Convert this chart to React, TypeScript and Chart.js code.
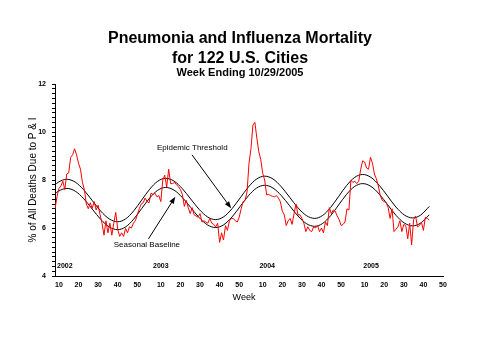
import React, { useEffect, useRef } from "react";
import { Chart, registerables } from "chart.js";

Chart.register(...registerables);

// Continuous week index: 2002 week w -> w, 2003 -> 52 + w, 2004 -> 104 + w, 2005 -> 156 + w
const FIRST_WEEK_INDEX = 8;

// Observed % of all deaths due to P&I, weekly from 2002 wk 8 to 2005 wk 43
const observed = [
  6.80, 7.30, 7.65, 7.75, 7.95, 7.60, 8.25, 8.30, 8.95, 9.05, 9.30, 9.05, 8.70, 8.45, 7.90, 7.60,
  7.00, 6.80, 7.05, 6.82, 7.10, 6.75, 6.95, 6.55, 6.20, 5.70, 6.30, 5.80, 6.20, 5.70, 6.20, 6.65,
  5.95, 5.65, 5.80, 5.65, 5.98, 5.80, 6.05, 6.00, 6.20, 6.30, 6.55, 6.80, 7.00, 7.05, 7.25, 7.10,
  7.05, 7.45, 7.40, 7.45, 7.30, 7.35, 7.10, 8.00, 8.20, 7.70, 8.45, 7.85, 7.85, 7.90, 7.80, 7.72,
  7.60, 7.40, 6.90, 7.15, 6.85, 6.60, 6.85, 6.55, 6.50, 6.45, 6.60, 6.25, 6.30, 6.25, 6.20, 6.40,
  6.20, 6.15, 6.05, 6.20, 5.40, 5.80, 5.50, 6.10, 5.90, 6.30, 6.40, 6.40, 6.30, 6.25, 6.45, 6.80,
  7.10, 7.15, 7.50, 8.70, 9.30, 10.29, 10.40, 9.75, 9.18, 8.85, 8.28, 8.00, 7.38, 7.40, 7.35, 7.32,
  7.30, 7.35, 7.25, 7.10, 6.70, 6.55, 6.10, 6.30, 6.40, 6.15, 6.60, 7.00, 6.55, 6.55, 6.40, 6.20,
  5.85, 6.05, 5.90, 5.85, 6.05, 6.00, 6.10, 5.85, 6.00, 5.80, 6.25, 6.10, 6.85, 6.60, 6.75, 6.70,
  6.50, 6.35, 6.10, 6.15, 6.25, 6.80, 6.75, 8.00, 7.90, 7.95, 7.85, 7.95, 8.45, 8.80, 8.75, 8.50,
  8.45, 8.95, 8.70, 8.25, 8.05, 7.75, 7.35, 7.15, 7.10, 7.05, 6.85, 6.40, 6.80, 5.85, 5.95, 6.05,
  6.30, 5.85, 6.15, 6.10, 5.55, 6.20, 5.30, 6.35, 6.50, 6.05, 6.10, 6.25, 5.90, 6.45, 6.40, 6.33,
];

// Seasonal baseline / epidemic threshold, read at these week indices
const curveWeeks = [
  8, 9.67, 14, 18.33, 22.67, 27, 31.33, 35.67, 40, 44.08, 48.17, 52.25, 56.33, 60.42, 64.5,
  68.75, 73, 77.25, 81.5, 85.75, 90, 94.17, 98.33, 102.5, 106.67, 110.83, 115, 119.25, 123.5,
  127.75, 132, 136.25, 140.5, 144.58, 148.67, 152.75, 156.83, 160.92, 165, 169.25, 173.5,
  177.75, 182, 186.25, 190.5, 194.67, 199,
];
const baselineValues = [
  7.43, 7.53, 7.65, 7.535, 7.22, 6.79, 6.36, 6.045, 5.93, 6.048, 6.37, 6.81, 7.25, 7.572, 7.69,
  7.578, 7.27, 6.855, 6.44, 6.132, 6.02, 6.138, 6.46, 6.9, 7.34, 7.662, 7.78, 7.665, 7.35,
  6.925, 6.5, 6.185, 6.07, 6.189, 6.515, 6.96, 7.405, 7.731, 7.85, 7.732, 7.41,
  6.97, 6.53, 6.208, 6.09, 6.209, 6.55,
];
const thresholdValues = [
  7.8, 7.907, 8.03, 7.912, 7.587, 7.145, 6.703, 6.379, 6.26, 6.382, 6.713, 7.165, 7.617, 7.949, 8.07,
  7.955, 7.637, 7.21, 6.783, 6.466, 6.35, 6.472, 6.803, 7.255, 7.707, 8.039, 8.16, 8.042, 7.717,
  7.28, 6.843, 6.519, 6.4, 6.523, 6.858, 7.315, 7.772, 8.108, 8.23, 8.109, 7.777,
  7.325, 6.873, 6.542, 6.42, 6.543, 6.9,
];

const xTickPositions = [10, 20, 30, 40, 50, 62, 72, 82, 92, 102, 114, 124, 134, 144, 154, 166, 176, 186, 196, 206];
const xTickLabels = ["10", "20", "30", "40", "50", "10", "20", "30", "40", "50", "10", "20", "30", "40", "50", "10", "20", "30", "40", "50"];
const yTickLabels = [4, 6, 8, 10, 12];

const years = ["2002", "2003", "2004", "2005"];
const yearLabelWeeks = [13, 62, 116.3, 169.3];

const titleLines = ["Pneumonia and Influenza Mortality", "for 122 U.S. Cities"];
const subtitle = "Week Ending 10/29/2005";

const FONT = '"Liberation Sans", Arial, Helvetica, sans-serif';

function drawArrow(ctx: CanvasRenderingContext2D, x1: number, y1: number, x2: number, y2: number) {
  const ang = Math.atan2(y2 - y1, x2 - x1);
  const len = 7;
  const hw = 2.6;
  ctx.beginPath();
  ctx.moveTo(x1, y1);
  ctx.lineTo(x2 - Math.cos(ang) * len * 0.8, y2 - Math.sin(ang) * len * 0.8);
  ctx.strokeStyle = "#000";
  ctx.lineWidth = 1;
  ctx.stroke();
  ctx.beginPath();
  ctx.moveTo(x2, y2);
  ctx.lineTo(x2 - Math.cos(ang) * len - Math.sin(ang) * hw, y2 - Math.sin(ang) * len + Math.cos(ang) * hw);
  ctx.lineTo(x2 - Math.cos(ang) * len + Math.sin(ang) * hw, y2 - Math.sin(ang) * len - Math.cos(ang) * hw);
  ctx.closePath();
  ctx.fillStyle = "#000";
  ctx.fill();
}

const textPlugin = {
  id: "textPlugin",
  afterDraw(chart: any) {
    const ctx: CanvasRenderingContext2D = chart.ctx;
    const xs = chart.scales.x;
    const ys = chart.scales.y;
    ctx.save();
    ctx.fillStyle = "#000";
    ctx.textAlign = "center";
    ctx.textBaseline = "alphabetic";
    ctx.font = `bold 16px ${FONT}`;
    ctx.fillText(titleLines[0], 240, 42.5);
    ctx.fillText(titleLines[1], 240, 62.5);
    ctx.font = `bold 11px ${FONT}`;
    ctx.fillText(subtitle, 240, 75.5);

    ctx.font = `9px ${FONT}`;
    ctx.textBaseline = "middle";
    ctx.fillText("Week", 244, 298);

    ctx.font = `bold 7px ${FONT}`;
    years.forEach((y, i) => {
      ctx.fillText(y, xs.getPixelForValue(yearLabelWeeks[i]), ys.getPixelForValue(4.43));
    });

    ctx.font = `8px ${FONT}`;
    ctx.textAlign = "left";
    ctx.fillText("Epidemic Threshold", xs.getPixelForValue(60), ys.getPixelForValue(9.35));
    ctx.fillText("Seasonal Baseline", xs.getPixelForValue(38), ys.getPixelForValue(5.32));

    drawArrow(ctx, xs.getPixelForValue(77.9), ys.getPixelForValue(9.05), xs.getPixelForValue(97.9), ys.getPixelForValue(6.82));
    drawArrow(ctx, xs.getPixelForValue(55.7), ys.getPixelForValue(5.55), xs.getPixelForValue(69.4), ys.getPixelForValue(7.3));
    ctx.restore();
  },
};

export default function App() {
  const ref = useRef<HTMLCanvasElement | null>(null);

  useEffect(() => {
    if (!ref.current) return;
    const chart = new Chart(ref.current, {
      type: "line",
      data: {
        datasets: [
          {
            label: "% P&I",
            data: observed.map((v, i) => ({ x: FIRST_WEEK_INDEX + i, y: v })),
            borderColor: "#ff0000",
            borderWidth: 1,
            pointRadius: 0,
            tension: 0,
          },
          {
            label: "Epidemic Threshold",
            data: curveWeeks.map((w, i) => ({ x: w, y: thresholdValues[i] })),
            borderColor: "#000000",
            borderWidth: 1,
            pointRadius: 0,
            cubicInterpolationMode: "monotone",
          },
          {
            label: "Seasonal Baseline",
            data: curveWeeks.map((w, i) => ({ x: w, y: baselineValues[i] })),
            borderColor: "#000000",
            borderWidth: 1,
            pointRadius: 0,
            cubicInterpolationMode: "monotone",
          },
        ],
      },
      options: {
        animation: false,
        responsive: false,
        maintainAspectRatio: false,
        layout: { padding: { left: 0, right: 37, top: 84, bottom: 0 } },
        plugins: {
          legend: { display: false },
          tooltip: { enabled: false },
          title: { display: false },
        },
        scales: {
          x: {
            type: "linear",
            min: 8,
            max: 206,
            afterBuildTicks: (s: any) => {
              s.ticks = xTickPositions.map((v) => ({ value: v }));
            },
            afterFit: (s: any) => {
              s.height = 84;
            },
            ticks: {
              autoSkip: false,
              maxRotation: 0,
              padding: 5,
              color: "#000",
              font: { family: FONT, size: 7, weight: "bold" },
              callback: (_v: any, i: number) => xTickLabels[i],
            },
            grid: { display: false, drawTicks: false, tickLength: 0 },
            border: { display: true, color: "#000", width: 1 },
          },
          y: {
            min: 4,
            max: 12,
            afterFit: (s: any) => {
              s.width = 55;
            },
            ticks: {
              stepSize: 0.2,
              autoSkip: false,
              padding: 6,
              color: "#000",
              font: { family: FONT, size: 7, weight: "bold" },
              callback: (v: any) => {
                const n = Number(v);
                const r = Math.round(n);
                return Math.abs(n - r) < 1e-6 && yTickLabels.includes(r) ? String(r) : "";
              },
            },
            grid: { drawOnChartArea: false, tickLength: 3, color: "#000" },
            border: { display: true, color: "#000", width: 1 },
            title: {
              display: true,
              text: "% of All Deaths Due to P & I",
              color: "#000",
              font: { family: FONT, size: 10 },
              padding: { top: 27, bottom: 0 },
            },
          },
        },
      },
      plugins: [textPlugin],
    });
    return () => chart.destroy();
  }, []);

  return (
    <div style={{ position: "absolute", left: 0, top: 0, width: 480, height: 360, background: "#fff" }}>
      <canvas ref={ref} width={480} height={360} style={{ display: "block", width: 480, height: 360 }} />
    </div>
  );
}
